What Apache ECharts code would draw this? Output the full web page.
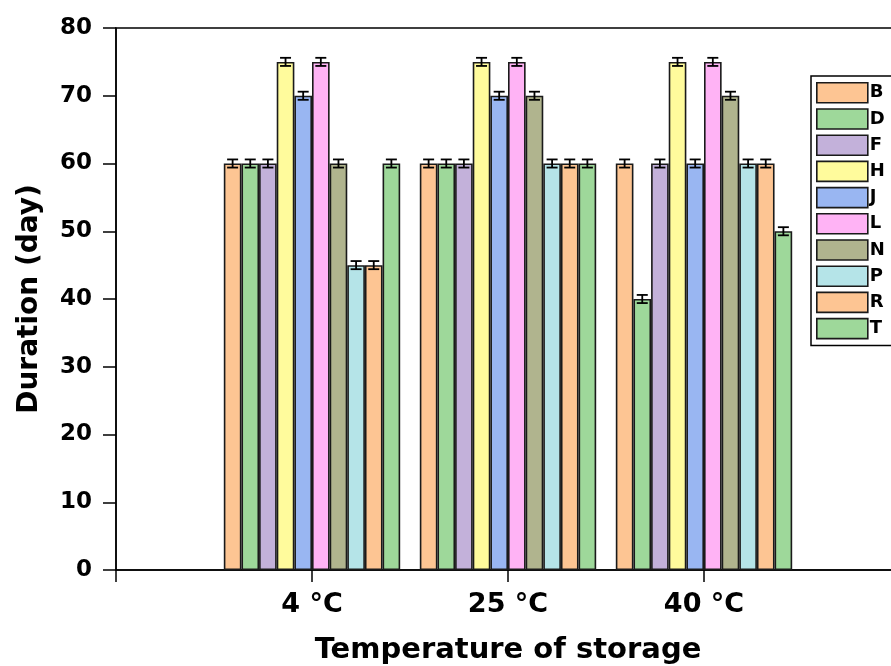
<!DOCTYPE html>
<html>
<head>
<meta charset="utf-8">
<script src="https://cdn.jsdelivr.net/npm/echarts@6/dist/echarts.min.js"></script>
<style>
  html, body { margin: 0; padding: 0; background: #fff; }
  #main { width: 891px; height: 666px; }
</style>
</head>
<body>
<div id="main"></div>
<script>
// categories (blank slots at both ends keep the groups off the axis edges)
var categories = ['', '4 °C', '25 °C', '40 °C', '']
var seriesNames = ['B', 'D', 'F', 'H', 'J', 'L', 'N', 'P', 'R', 'T']
var colors = ['#fdc593', '#9ed89a', '#c3b1da', '#fffb9c', '#99b6f2',
  '#ffb3f5', '#b0b48e', '#b5e4e8', '#fdc593', '#9ed89a']

// values for 4 °C, 25 °C, 40 °C
var valB = [60, 60, 60]
var valD = [60, 60, 40]
var valF = [60, 60, 60]
var valH = [75, 75, 75]
var valJ = [70, 70, 60]
var valL = [75, 75, 75]
var valN = [60, 70, 70]
var valP = [45, 60, 60]
var valR = [45, 60, 60]
var valT = [60, 60, 50]
var errorSize = 0.6

var allValues = [valB, valD, valF, valH, valJ, valL, valN, valP, valR, valT]
var font = 'DejaVu Sans, Liberation Sans, Arial'

var chart = echarts.init(document.getElementById('main'))

var series = []
var errData = []
allValues.forEach(function (vals, s) {
  series.push({
    name: seriesNames[s],
    type: 'bar',
    barGap: 0,
    barCategoryGap: '10%',
    data: ['-'].concat(vals).concat(['-']),
    itemStyle: {
      color: colors[s],
      borderColor: '#1a1a1a',
      borderWidth: 1.6
    }
  })
  vals.forEach(function (v, i) {
    errData.push([i + 1, v, s])
  })
})

series.push({
  name: 'err',
  type: 'custom',
  z: 10,
  data: errData,
  renderItem: function (params, api) {
    var cat = api.value(0)
    var v = api.value(1)
    var s = api.value(2)
    var band = api.coord([1, 0])[0] - api.coord([0, 0])[0]
    var barW = band * 0.9 / 10
    var x = api.coord([cat, v])[0] + (s - 4.5) * barW
    var top = api.coord([cat, v + errorSize])[1]
    var bot = api.coord([cat, v - errorSize])[1]
    var style = { stroke: '#000', lineWidth: 1.8 }
    return {
      type: 'group',
      children: [
        { type: 'line', shape: { x1: x, y1: top, x2: x, y2: bot }, style: style },
        { type: 'line', shape: { x1: x - 5.5, y1: top, x2: x + 5.5, y2: top }, style: style },
        { type: 'line', shape: { x1: x - 5.5, y1: bot, x2: x + 5.5, y2: bot }, style: style }
      ]
    }
  }
})

var options = {
  animation: false,
  grid: {
    left: 116,
    top: 28,
    width: 784,
    height: 542,
    containLabel: false,
    outerBoundsMode: 'none',
    show: true,
    borderColor: '#000',
    borderWidth: 1.5,
    backgroundColor: 'transparent'
  },
  legend: {
    data: seriesNames,
    orient: 'vertical',
    left: 811,
    top: 76,
    icon: 'rect',
    itemWidth: 51,
    itemHeight: 20,
    itemGap: 4.6,
    padding: [6, 40, 6, 5],
    borderColor: '#000',
    borderWidth: 1.5,
    itemStyle: { borderColor: '#1a1a1a', borderWidth: 1.6 },
    textStyle: {
      fontFamily: font,
      fontWeight: 'bold',
      fontSize: 18,
      color: '#000',
      padding: [0, 0, 0, -3]
    }
  },
  xAxis: {
    type: 'category',
    data: categories,
    boundaryGap: false,
    name: 'Temperature of storage',
    nameLocation: 'middle',
    nameGap: 66,
    nameTextStyle: {
      fontFamily: font,
      fontWeight: 'bold',
      fontSize: 29,
      color: '#000'
    },
    axisLine: { lineStyle: { color: '#000', width: 1.5 } },
    axisTick: { length: 12, lineStyle: { color: '#000', width: 1.5 } },
    axisLabel: {
      interval: 0,
      margin: 21,
      fontFamily: font,
      fontWeight: 'bold',
      fontSize: 27,
      color: '#000'
    },
    splitLine: { show: false }
  },
  yAxis: {
    type: 'value',
    min: 0,
    max: 80,
    interval: 10,
    name: 'Duration (day)',
    nameLocation: 'middle',
    nameGap: 72,
    nameTextStyle: {
      fontFamily: font,
      fontWeight: 'bold',
      fontSize: 28,
      color: '#000'
    },
    axisLine: { show: true, lineStyle: { color: '#000', width: 1.5 } },
    axisTick: { show: true, length: 13, lineStyle: { color: '#000', width: 1.5 } },
    axisLabel: {
      margin: 24,
      fontFamily: font,
      fontWeight: 'bold',
      fontSize: 23,
      color: '#000'
    },
    splitLine: { show: false }
  },
  series: series
}
chart.setOption(options)
</script>
</body>
</html>
